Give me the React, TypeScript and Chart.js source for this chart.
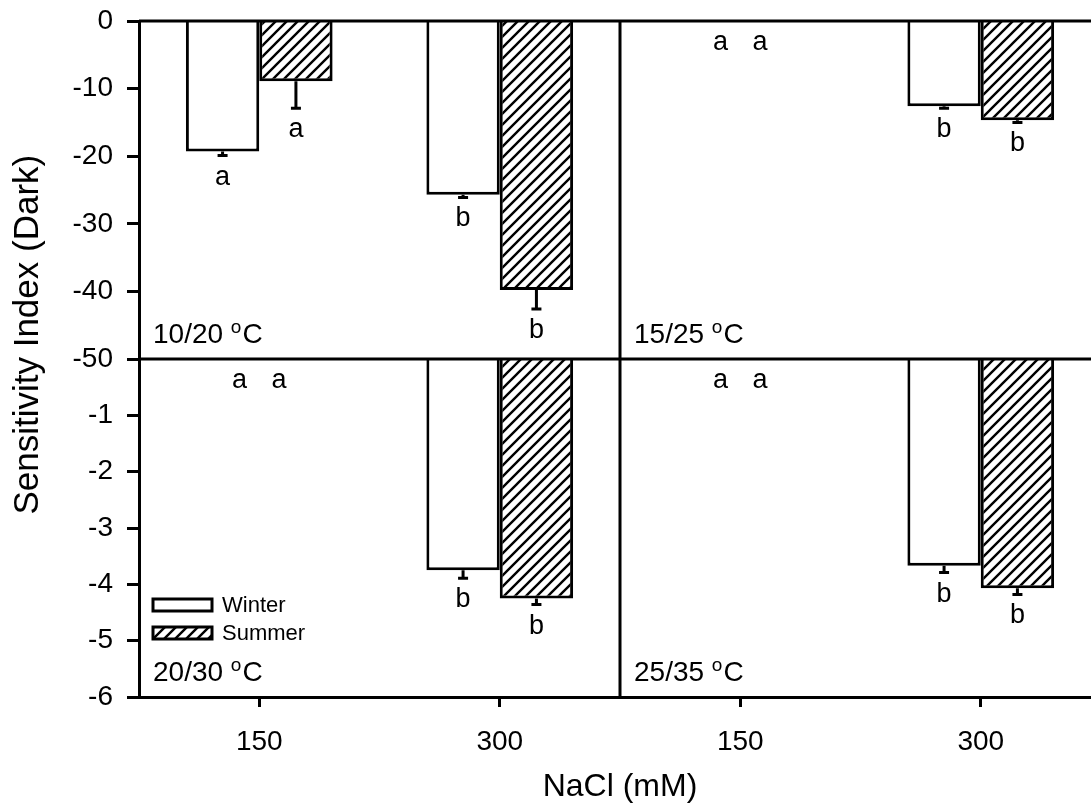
import React, { useEffect, useRef } from 'react';
import { Chart, registerables } from 'chart.js';

Chart.register(...registerables);

// ---------- data ----------
const categories = ['150', '300'];
const seriesNames = ['Winter', 'Summer'];
const panelTemps = ['10/20', '15/25', '20/30', '25/35'];

const yTopMin = -50;
const yTopStep = 10;
const yBotMin = -6;
const yBotStep = 1;

const winter1020 = [-19.3, -25.7];
const summer1020 = [-8.9, -39.8];
const winter1525 = [0, -12.6];
const summer1525 = [0, -14.7];
const winter2030 = [0, -3.75];
const summer2030 = [0, -4.25];
const winter2535 = [0, -3.67];
const summer2535 = [0, -4.07];

const winterErr1020 = [0.6, 0.4];
const summerErr1020 = [4.0, 2.8];
const winterErr1525 = [0, 0.3];
const summerErr1525 = [0, 0.3];
const winterErr2030 = [0, 0.14];
const summerErr2030 = [0, 0.11];
const winterErr2535 = [0, 0.12];
const summerErr2535 = [0, 0.11];

const winterLetters = ['a', 'b'];
const summerLetters = ['a', 'b'];

const FONT = "'Liberation Sans', Arial, Helvetica, sans-serif";

// two panels per row share one category axis (left panel + right panel)
const xLabels = [...categories, ...categories];
const rows = [
  {
    yAxis: 'yTop',
    temps: [panelTemps[0], panelTemps[1]],
    winter: [...winter1020, ...winter1525],
    summer: [...summer1020, ...summer1525],
    winterErr: [...winterErr1020, ...winterErr1525],
    summerErr: [...summerErr1020, ...summerErr1525],
  },
  {
    yAxis: 'yBot',
    temps: [panelTemps[2], panelTemps[3]],
    winter: [...winter2030, ...winter2535],
    summer: [...summer2030, ...summer2535],
    winterErr: [...winterErr2030, ...winterErr2535],
    summerErr: [...summerErr2030, ...summerErr2535],
  },
];

function makeHatch(): CanvasPattern | string {
  const s = 11;
  const c = document.createElement('canvas');
  c.width = s;
  c.height = s;
  const g = c.getContext('2d');
  if (!g) return '#888';
  g.fillStyle = '#ffffff';
  g.fillRect(0, 0, s, s);
  g.strokeStyle = '#000000';
  g.lineWidth = 2.4;
  g.beginPath();
  for (const k of [0, s, 2 * s]) {
    g.moveTo(-2, k + 2);
    g.lineTo(s + 2, k - s - 2);
  }
  g.stroke();
  const p = g.createPattern(c, 'repeat');
  return p || '#888';
}

const decorPlugin = {
  id: 'panelDecor',
  afterDatasetsDraw(chart: any) {
    const ctx: CanvasRenderingContext2D = chart.ctx;
    const ca = chart.chartArea;
    const sc = chart.scales;
    const xs = sc.x;
    const nCat = categories.length;
    ctx.save();

    // error bars + significance letters
    chart.data.datasets.forEach((ds: any, di: number) => {
      const meta = chart.getDatasetMeta(di);
      const ys = sc[ds.yAxisID];
      meta.data.forEach((bar: any, i: number) => {
        const v = ds.data[i];
        const e = ds.errors[i];
        const y0 = ys.getPixelForValue(v);
        const y1 = ys.getPixelForValue(v - e);
        ctx.strokeStyle = '#000';
        ctx.lineWidth = 3;
        if (e > 0) {
          ctx.beginPath();
          ctx.moveTo(bar.x, y0);
          ctx.lineTo(bar.x, y1);
          ctx.moveTo(bar.x - 5, y1);
          ctx.lineTo(bar.x + 5, y1);
          ctx.stroke();
        }
        const cx = xs.getPixelForValue(i);
        const lx = v === 0 ? cx + (bar.x - cx) * 0.54 : bar.x;
        ctx.fillStyle = '#000';
        ctx.font = `27px ${FONT}`;
        ctx.textAlign = 'center';
        ctx.textBaseline = 'alphabetic';
        ctx.fillText(ds.letters[i], lx, y1 + 29);
      });
    });

    // panel frame lines
    const divX = (xs.getPixelForValue(nCat - 1) + xs.getPixelForValue(nCat)) / 2;
    const mid = sc.yTop.bottom;
    ctx.strokeStyle = '#000';
    ctx.lineWidth = 3;
    ctx.beginPath();
    ctx.moveTo(ca.left, ca.top);
    ctx.lineTo(ca.right, ca.top);
    ctx.moveTo(ca.left, mid);
    ctx.lineTo(ca.right, mid);
    ctx.moveTo(divX, ca.top);
    ctx.lineTo(divX, ca.bottom);
    ctx.moveTo(ca.right, ca.top);
    ctx.lineTo(ca.right, ca.bottom);
    ctx.stroke();

    // panel temperature labels
    rows.forEach((r) => {
      r.temps.forEach((t, c) => {
        const x0 = (c === 0 ? ca.left : divX) + 14;
        const base = sc[r.yAxis].bottom - 16;
        ctx.fillStyle = '#000';
        ctx.textAlign = 'left';
        ctx.textBaseline = 'alphabetic';
        ctx.font = `28px ${FONT}`;
        const main = t + ' ';
        ctx.fillText(main, x0, base);
        let x = x0 + ctx.measureText(main).width;
        ctx.font = `19px ${FONT}`;
        ctx.fillText('o', x, base - 10);
        x += ctx.measureText('o').width + 1;
        ctx.font = `28px ${FONT}`;
        ctx.fillText('C', x, base);
      });
    });

    // legend inside lower-left panel
    const lx = ca.left + 14;
    const lb = sc.yBot.bottom;
    const legendRows = [lb - 92, lb - 64];
    chart.data.datasets.slice(0, 2).forEach((ds: any, k: number) => {
      const yc = legendRows[k];
      ctx.fillStyle = ds.backgroundColor;
      ctx.fillRect(lx, yc - 6, 59, 12);
      ctx.lineWidth = 3;
      ctx.strokeStyle = '#000';
      ctx.strokeRect(lx, yc - 6, 59, 12);
      ctx.fillStyle = '#000';
      ctx.font = `22px ${FONT}`;
      ctx.textAlign = 'left';
      ctx.textBaseline = 'middle';
      ctx.fillText(ds.label, lx + 69, yc + 1);
    });

    ctx.restore();
  },
};

function yLin(min: number, step: number, hideZero: boolean): any {
  return {
    type: 'linear',
    position: 'left',
    stack: 'ys',
    stacked: false,
    min,
    max: 0,
    grid: { display: true, drawOnChartArea: false, drawTicks: true, tickLength: 12, tickWidth: 3, tickColor: '#000' },
    border: { display: true, width: 3, color: '#000' },
    ticks: {
      stepSize: step,
      autoSkip: false,
      color: '#000',
      padding: 14,
      font: { size: 28, family: FONT },
      callback: (v: number) => (hideZero && v === 0 ? '' : String(v)),
    },
    afterFit: (s: any) => { s.width = 89; s.paddingTop = 0; s.paddingBottom = 0; },
  };
}

export default function App() {
  const ref = useRef<HTMLCanvasElement>(null);
  useEffect(() => {
    if (!ref.current) return;
    const hatch = makeHatch();
    const common = { borderColor: '#000', borderWidth: 3, borderSkipped: 'start', categoryPercentage: 0.61, barPercentage: 1 };
    const datasets: any[] = rows.flatMap((r) => [
      { ...common, label: seriesNames[0], data: r.winter, errors: r.winterErr, letters: [...winterLetters, ...winterLetters], xAxisID: 'x', yAxisID: r.yAxis, stack: 'winter', backgroundColor: '#ffffff' },
      { ...common, label: seriesNames[1], data: r.summer, errors: r.summerErr, letters: [...summerLetters, ...summerLetters], xAxisID: 'x', yAxisID: r.yAxis, stack: 'summer', backgroundColor: hatch },
    ]);
    const chart = new Chart(ref.current, {
      type: 'bar',
      data: { labels: xLabels, datasets },
      options: {
        animation: false,
        responsive: true,
        maintainAspectRatio: false,
        devicePixelRatio: 1,
        events: [],
        layout: { padding: { top: 21, right: 3, bottom: 0, left: 0 } },
        plugins: { legend: { display: false }, tooltip: { enabled: false } },
        scales: {
          x: {
            type: 'category',
            position: 'bottom',
            stacked: true,
            labels: xLabels,
            offset: true,
            grid: { display: true, offset: false, drawOnChartArea: false, drawTicks: true, tickLength: 10, tickWidth: 3, tickColor: '#000' },
            border: { display: true, width: 3, color: '#000' },
            ticks: { color: '#000', padding: 18, autoSkip: false, font: { size: 28, family: FONT }, maxRotation: 0 },
            title: { display: true, text: 'NaCl (mM)', color: '#000', font: { size: 32, family: FONT, lineHeight: 1 }, padding: { top: 0, bottom: 0 } },
            afterFit: (s: any) => { s.height = 106; s.paddingLeft = 0; s.paddingRight = 0; },
          },
          yBot: yLin(yBotMin, yBotStep, true),
          yTop: yLin(yTopMin, yTopStep, false),
          yTitle: {
            type: 'linear',
            position: 'left',
            weight: 1,
            grid: { display: false },
            border: { display: false },
            ticks: { display: false },
            title: { display: true, text: '     Sensitivity Index (Dark)', color: '#000', font: { size: 35, family: FONT, lineHeight: 1.2 }, padding: { top: 7, bottom: 0 } },
            afterFit: (s: any) => { s.width = 50; s.paddingTop = 0; s.paddingBottom = 0; },
          },
        },
      } as any,
      plugins: [decorPlugin],
    });
    return () => chart.destroy();
  }, []);

  return (
    <div style={{ position: 'absolute', left: 0, top: 0, width: 1091, height: 803, overflow: 'hidden', background: '#fff' }}>
      <div style={{ position: 'relative', width: 1104, height: 803 }}>
        <canvas ref={ref} />
      </div>
    </div>
  );
}
